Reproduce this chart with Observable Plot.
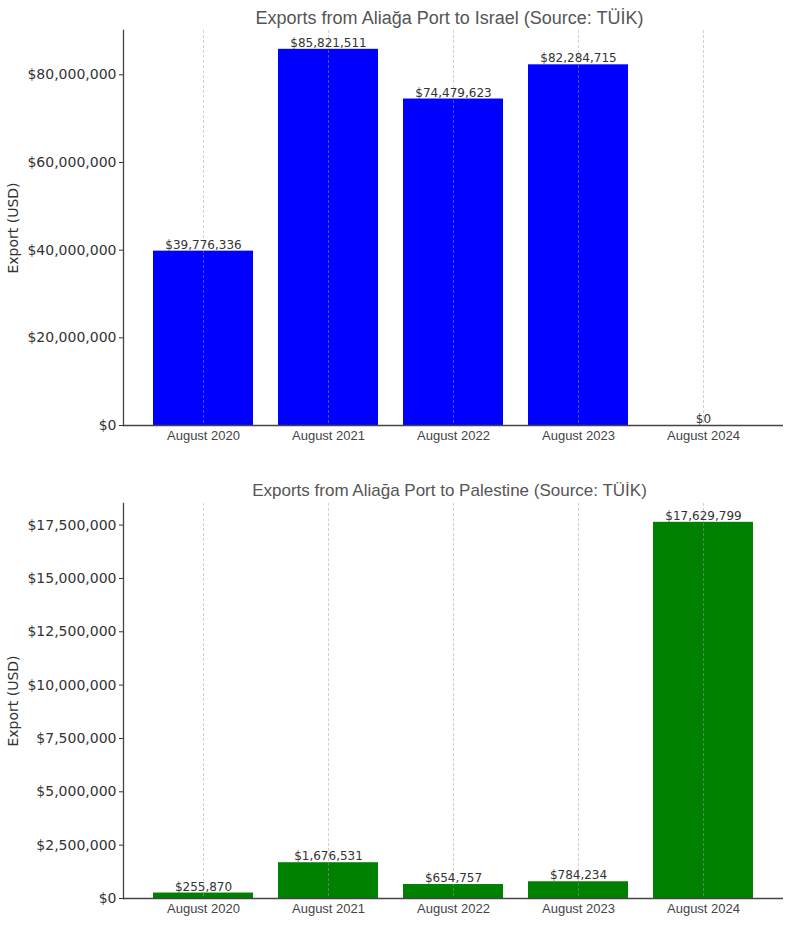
<!DOCTYPE html>
<html><head><meta charset="utf-8">
<script src="https://cdn.jsdelivr.net/npm/d3@7"></script>
<script src="https://cdn.jsdelivr.net/npm/@observablehq/plot@0.6"></script>
<style>body{margin:0;background:#fff} svg{display:block}</style>
</head><body><div id="c"></div>
<script>
const categories = ["August 2020", "August 2021", "August 2022", "August 2023", "August 2024"];
const israelValues = [39776336, 85821511, 74479623, 82284715, 0];
const palestineValues = [255870, 1676531, 654757, 784234, 17629799];
const israelTicks = [0, 20000000, 40000000, 60000000, 80000000];
const palestineTicks = [0, 2500000, 5000000, 7500000, 10000000, 12500000, 15000000, 17500000];
const israelTitle = "Exports from Aliağa Port to Israel (Source: TÜİK)";
const palestineTitle = "Exports from Aliağa Port to Palestine (Source: TÜİK)";
const yLabel = "Export (USD)";

const fmt = d3.format("$,");

function chart({values, ticks, color, title, titleSize, height, marginTop, marginBottom, titleDy}) {
  const data = categories.map((c, i) => ({category: c, value: values[i]}));
  return Plot.plot({
    width: 792, height, marginTop, marginBottom, marginLeft: 123, marginRight: 9,
    style: {fontFamily: "DejaVu Sans", background: "#fff", overflow: "visible"},
    x: {domain: categories, paddingInner: 0.2, paddingOuter: 0.24, align: 0.5, label: null},
    y: {domain: [0, d3.max(values) * 1.05], label: null},
    marks: [
      Plot.barY(data, {x: "category", y: "value", fill: color}),
      Plot.ruleX(categories, {x: d => d, stroke: "#a0a0a0", strokeOpacity: 0.55, strokeDasharray: "3,2", strokeWidth: 0.9}),
      Plot.axisY({ticks, tickFormat: fmt, tickSize: 4, tickPadding: 3, fontSize: 14, color: "#333",
        label: yLabel, labelAnchor: "center", labelOffset: 115, labelArrow: "none"}),
      Plot.axisX({tickSize: 0, tickPadding: 5, fontSize: 13, fontFamily: "Liberation Sans", color: "#444", label: null}),
      Plot.ruleY([0], {stroke: "#444", strokeWidth: 1.3}),
      Plot.frame({anchor: "left", stroke: "#444", strokeWidth: 1.3}),
      Plot.text(data, {x: "category", y: "value", text: d => fmt(d.value), lineAnchor: "bottom", dy: -2.5, fontSize: 12, fill: "#333"}),
      Plot.text([title], {frameAnchor: "top", lineAnchor: "middle", dy: titleDy, dx: -4, fontSize: titleSize, fontFamily: "Liberation Sans", fill: "#555"})
    ]
  });
}

const c = document.getElementById("c");
c.append(chart({values: israelValues, ticks: israelTicks, color: "#0000ff", title: israelTitle, titleSize: 18,
  height: 462, marginTop: 30, marginBottom: 37, titleDy: -12}));
c.append(chart({values: palestineValues, ticks: palestineTicks, color: "#008000", title: palestineTitle, titleSize: 17,
  height: 463, marginTop: 41, marginBottom: 27, titleDy: -13}));
</script></body></html>
